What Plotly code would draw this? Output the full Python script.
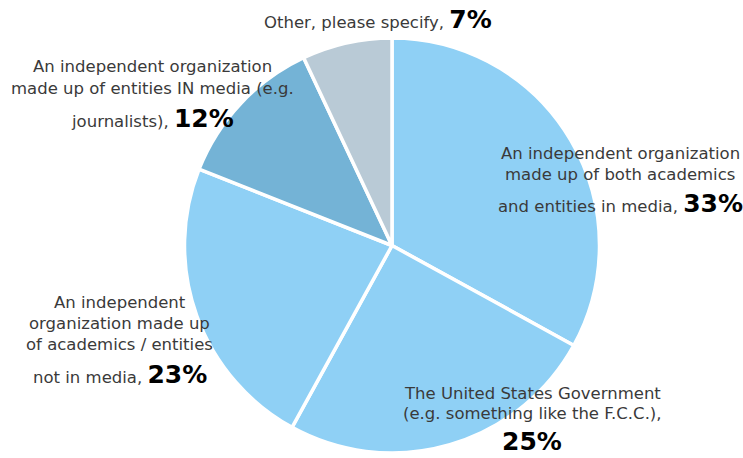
import plotly.graph_objects as go

W, H = 743, 458

categories = [
    "An independent organization made up of both academics and entities in media",
    "The United States Government (e.g. something like the F.C.C.)",
    "An independent organization made up of academics / entities not in media",
    "An independent organization made up of entities IN media (e.g. journalists)",
    "Other, please specify",
]
values = [33, 25, 23, 12, 7]
colors = ["#8FD0F5", "#8FD0F5", "#8FD0F5", "#74B3D6", "#B9CAD6"]

# text lines of each outside label; the percentage is appended to the last line
label_lines = [
    ["An independent organization", "made up of both academics", "and entities in media, "],
    ["The United States Government", "(e.g. something like the F.C.C.),", ""],
    ["An independent", "organization made up", "of academics / entities", "not in media, "],
    ["An independent organization", "made up of entities IN media (e.g.", "journalists), "],
    ["Other, please specify, "],
]

# label anchor positions (pixel centre x, line centre y's)
label_pos = [
    (620, [153, 174, 204]),
    (532, [393, 413, 441]),
    (120, [302, 323, 344, 374]),
    (152, [67, 88, 118]),
    (378, [20]),
]

fig = go.Figure(go.Pie(
    labels=categories,
    values=values,
    sort=False,
    direction="clockwise",
    rotation=0,
    marker=dict(colors=colors, line=dict(color="white", width=3.5)),
    textinfo="none",
    hoverinfo="label+percent",
    domain=dict(x=[184 / W, 600 / W], y=[(H - 453) / H, (H - 38) / H]),
    showlegend=False,
))

FONT = "DejaVu Sans"
annotations = []
for lines, (cx, ys), v in zip(label_lines, label_pos, values):
    for i, (line, y) in enumerate(zip(lines, ys)):
        last = i == len(lines) - 1
        txt = line
        if last:
            txt = line + f"<span style='font-size:25px;color:#000000'><b>{v}%</b></span>"
        annotations.append(dict(
            x=cx / W, y=1 - y / H, xref="paper", yref="paper",
            xanchor="center", yanchor="middle",
            text=txt, showarrow=False,
            font=dict(family=FONT, size=16.5, color="#3a3a3a"),
        ))

fig.update_layout(
    width=W, height=H,
    margin=dict(l=0, r=0, t=0, b=0),
    paper_bgcolor="white",
    plot_bgcolor="white",
    annotations=annotations,
)

fig.write_html("out.html")
